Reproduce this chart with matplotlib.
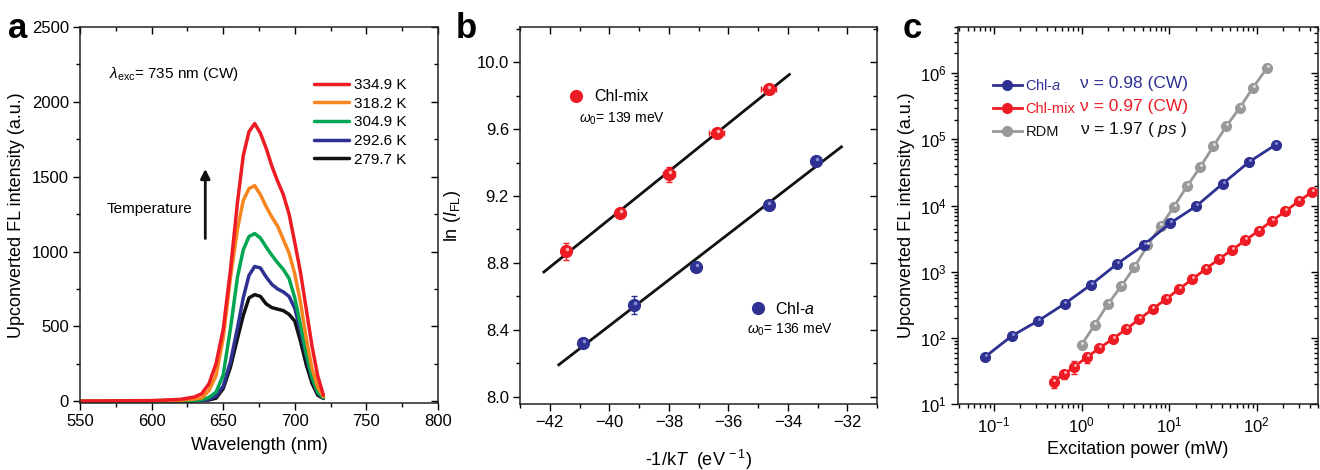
import numpy as np
import matplotlib
matplotlib.use('Agg')
import matplotlib.pyplot as plt
import matplotlib.transforms as mtransforms
from matplotlib.ticker import MultipleLocator, LogLocator, NullFormatter

plt.rcParams['font.family'] = ['Liberation Sans', 'DejaVu Sans']
plt.rcParams['mathtext.fontset'] = 'custom'
plt.rcParams['mathtext.rm'] = 'Liberation Sans'
plt.rcParams['mathtext.it'] = 'Liberation Sans:italic'
plt.rcParams['mathtext.bf'] = 'Liberation Sans:bold'

# ---- panel a: upconverted FL spectra at different temperatures ----
wavelength = [550, 600, 620, 630, 635, 640, 645, 650, 655, 660, 664, 668, 672,
              676, 680, 684, 688, 692, 696, 700, 704, 708, 712, 716, 720]
spec_334 = [0, 4, 12, 28, 50, 115, 250, 480, 870, 1330, 1640, 1800, 1855,
            1790, 1690, 1570, 1470, 1380, 1250, 1060, 860, 616, 370, 170, 40]
spec_318 = [0, 2, 6, 14, 22, 70, 170, 420, 820, 1150, 1340, 1420, 1440,
            1380, 1300, 1230, 1170, 1080, 990, 850, 660, 420, 220, 95, 30]
spec_305 = [0, 1, 3, 6, 10, 25, 60, 175, 480, 830, 1010, 1100, 1120,
            1090, 1030, 975, 925, 880, 820, 690, 510, 320, 160, 60, 22]
spec_293 = [0, 0, 2, 4, 6, 12, 35, 100, 260, 490, 690, 840, 900,
            890, 830, 780, 750, 730, 700, 620, 470, 300, 150, 55, 22]
spec_280 = [0, 0, 1, 3, 5, 8, 20, 84, 225, 420, 572, 690, 712,
            700, 650, 625, 615, 605, 580, 535, 400, 245, 120, 40, 18]
temp_labels = ['334.9 K', '318.2 K', '304.9 K', '292.6 K', '279.7 K']
temp_colors = ['#ED1C24', '#F7861F', '#00A651', '#2E3192', '#111111']

# ---- panel b: Arrhenius-type plot ----
mix_x = [-41.46, -39.63, -38.0, -36.39, -34.65]
mix_y = [8.87, 9.10, 9.33, 9.575, 9.84]
mix_xerr = [0, 0, 0.2, 0.25, 0.25]
mix_yerr = [0.05, 0, 0.045, 0, 0]
mix_fit_range = (-42.2, -33.95)

cha_x = [-40.89, -39.17, -37.08, -34.65, -33.04]
cha_y = [8.32, 8.55, 8.775, 9.145, 9.41]
cha_yerr = [0, 0.053, 0, 0, 0]
cha_fit_range = (-41.7, -32.2)

# ---- panel c: power dependence ----
cha_power = [0.08, 0.16, 0.32, 0.64, 1.28, 2.56, 5.12, 10.24, 20.5, 41, 82, 164]
cha_int = [52, 107, 181, 327, 635, 1320, 2535, 5400, 9890, 21500, 45900, 83000]

rdm_power = [1.0, 1.41, 2.0, 2.83, 4.0, 5.66, 8.0, 11.3, 16, 22.6, 32, 45, 64, 90.5, 130]
rdm_int = [78, 157, 324, 600, 1164, 2506, 4860, 9550, 19600, 38100, 79200,
           159000, 302000, 607000, 1190000]

mix_power = [0.48, 0.63, 0.83, 1.15, 1.60, 2.27, 3.22, 4.56, 6.47, 9.17, 13.0,
             18.4, 26.1, 37.0, 52.5, 74.3, 105, 149, 212, 300, 425]
mix_int = [21.8, 28.1, 36.8, 50.9, 69.7, 96.5, 135, 192, 272, 385, 546, 774,
           1097, 1556, 2155, 2985, 4182, 5856, 8204, 11640, 15920]
mix_int_err = [4.5, 4, 8, 9, 0, 7, 0, 0, 0, 0, 0, 0, 0, 0, 0, 0, 0, 0, 0, 0, 0]

RED = '#ED1C24'
BLUE = '#2E3192'
GRAY = '#999999'


def style_axes(ax):
    ax.tick_params(which='both', top=True, right=True, labelsize=12, pad=3)
    ax.tick_params(which='both', direction='out')
    ax.tick_params(which='major', length=5, width=1)
    ax.tick_params(which='minor', length=3, width=1)
    for s in ax.spines.values():
        s.set_linewidth(1.1)
        s.set_color('#222222')


def mirror_ticks(ax):
    # top/right ticks point into the frame, bottom/left point out
    for t in ax.xaxis.get_major_ticks() + ax.xaxis.get_minor_ticks():
        t.tick2line.set_marker(3)
    for t in ax.yaxis.get_major_ticks() + ax.yaxis.get_minor_ticks():
        t.tick2line.set_marker(0)


def sphere(ax, x, y, light, ms, fig):
    # fake shaded sphere: a small light spot on top of the marker
    off = mtransforms.offset_copy(ax.transData, fig=fig, x=0.6, y=1.4, units='points')
    ax.plot(x, y, 'o', ls='none', ms=ms * 0.3, color=light, mec='none',
            transform=off, zorder=6)


fig = plt.figure(figsize=(13.2, 4.7), dpi=100)
ax_a = fig.add_axes([0.0606, 0.1426, 0.2712, 0.80])
ax_b = fig.add_axes([0.394, 0.1404, 0.2705, 0.802])
ax_c = fig.add_axes([0.7258, 0.1404, 0.2727, 0.802])

# ---------------- panel a ----------------
spectra = [spec_334, spec_318, spec_305, spec_293, spec_280]
for spec, lab, col in zip(spectra[::-1], temp_labels[::-1], temp_colors[::-1]):
    ax_a.plot(wavelength, spec, color=col, lw=2.5, label=lab, solid_capstyle='round',
              solid_joinstyle='round')
handles, labels = ax_a.get_legend_handles_labels()
ax_a.legend(handles[::-1], labels[::-1], loc='upper right', bbox_to_anchor=(0.93, 0.88),
            frameon=False, fontsize=11, handlelength=2.3, handletextpad=0.35,
            labelspacing=0.3, borderaxespad=0)
ax_a.set_xlim(550, 800)
ax_a.set_ylim(-12, 2500)
ax_a.xaxis.set_major_locator(MultipleLocator(50))
ax_a.xaxis.set_minor_locator(MultipleLocator(25))
ax_a.yaxis.set_major_locator(MultipleLocator(500))
ax_a.yaxis.set_minor_locator(MultipleLocator(250))
style_axes(ax_a)
ax_a.set_xlabel('Wavelength (nm)', fontsize=13, labelpad=6)
ax_a.set_ylabel('Upconverted FL intensity (a.u.)', fontsize=13, labelpad=5)
ax_a.text(0.08, 0.875, r'$\mathit{\lambda}_{\mathrm{exc}}$= 735 nm (CW)', transform=ax_a.transAxes,
          fontsize=11, va='center')
ax_a.text(0.075, 0.515, 'Temperature', transform=ax_a.transAxes, fontsize=11, va='center')
ax_a.annotate('', xy=(0.350, 0.63), xytext=(0.350, 0.43), xycoords='axes fraction',
              arrowprops=dict(arrowstyle='-|>', color='#111111', lw=2, mutation_scale=14))

# ---------------- panel b ----------------
for fx, fy, rng in [(mix_x, mix_y, mix_fit_range), (cha_x, cha_y, cha_fit_range)]:
    k, b0 = np.polyfit(fx, fy, 1)
    xs = np.array(rng)
    ax_b.plot(xs, k * xs + b0, color='#111111', lw=2, zorder=2)

h_mix = ax_b.errorbar(mix_x, mix_y, xerr=mix_xerr, yerr=mix_yerr, fmt='o', ms=8.5,
                      color=RED, mec=RED, ecolor=RED, elinewidth=1, capsize=2.5, zorder=4)
h_cha = ax_b.errorbar(cha_x, cha_y, yerr=cha_yerr, fmt='o', ms=8.5,
                      color=BLUE, mec=BLUE, ecolor=BLUE, elinewidth=1, capsize=2.5, zorder=4)
sphere(ax_b, mix_x, mix_y, '#FFB0B0', 8.5, fig)
sphere(ax_b, cha_x, cha_y, '#8A8FD8', 8.5, fig)

leg1 = ax_b.legend([h_mix[0]], ['Chl-mix'], loc='center left', bbox_to_anchor=(0.117, 0.815),
                   frameon=False, fontsize=11.5, handletextpad=0.6, handlelength=1.0,
                   borderaxespad=0)
ax_b.add_artist(leg1)
ax_b.legend([h_cha[0]], ['Chl-$\\mathit{a}$'], loc='center left', bbox_to_anchor=(0.625, 0.253),
            frameon=False, fontsize=11.5, handletextpad=0.6, handlelength=1.0,
            borderaxespad=0)
ax_b.text(0.165, 0.757, r'$\mathit{\omega}_{0}$= 139 meV', transform=ax_b.transAxes,
          fontsize=10, va='center')
ax_b.text(0.635, 0.198, r'$\mathit{\omega}_{0}$= 136 meV', transform=ax_b.transAxes,
          fontsize=10, va='center')
ax_b.set_xlim(-43, -31)
ax_b.set_ylim(7.956, 10.21)
ax_b.xaxis.set_major_locator(MultipleLocator(2))
ax_b.xaxis.set_minor_locator(MultipleLocator(1))
ax_b.yaxis.set_major_locator(MultipleLocator(0.4))
ax_b.yaxis.set_minor_locator(MultipleLocator(0.2))
ax_b.yaxis.set_major_formatter(plt.FormatStrFormatter('%.1f'))
style_axes(ax_b)
ax_b.set_xlabel(r'-1/k$\mathit{T}$  (eV$^{\,-1}$)', fontsize=13, labelpad=13)
ax_b.set_ylabel(r'ln $(\mathit{I}_{\mathrm{FL}})$', fontsize=13, labelpad=10)

# ---------------- panel c ----------------
l_cha, = ax_c.plot(cha_power, cha_int, '-o', color=BLUE, mec=BLUE, lw=2, ms=7, zorder=4)
ax_c.errorbar(mix_power, mix_int, yerr=mix_int_err, fmt='none', ecolor=RED,
              elinewidth=1, capsize=2, zorder=4)
l_mix, = ax_c.plot(mix_power, mix_int, '-o', color=RED, mec=RED, lw=2, ms=7, zorder=4)
l_rdm, = ax_c.plot(rdm_power, rdm_int, '-o', color=GRAY, mec=GRAY, lw=2, ms=7, zorder=3)
sphere(ax_c, cha_power, cha_int, '#8A8FD8', 7, fig)
sphere(ax_c, mix_power, mix_int, '#FFB0B0', 7, fig)
sphere(ax_c, rdm_power, rdm_int, '#E0E0E0', 7, fig)

leg = ax_c.legend([l_cha, l_mix, l_rdm], ['Chl-$\\mathit{a}$', 'Chl-mix', 'RDM'],
                  loc='upper left', bbox_to_anchor=(0.08, 0.88), frameon=False, fontsize=10.5,
                  handlelength=2.0, handletextpad=0.25, labelspacing=0.6, borderaxespad=0)
for txt, col in zip(leg.get_texts(), [BLUE, RED, '#111111']):
    txt.set_color(col)
nu_texts = ['ν = 0.98 (CW)', 'ν = 0.97 (CW)', r'ν = 1.97 ( $\mathit{ps}$ )']
for i, (t, col) in enumerate(zip(nu_texts, [BLUE, RED, '#111111'])):
    ax_c.text(0.338, 0.851 - i * 0.0615, t, transform=ax_c.transAxes, fontsize=12.5,
              color=col, va='center')

ax_c.set_xscale('log')
ax_c.set_yscale('log')
ax_c.set_xlim(0.039, 500)
ax_c.set_ylim(10, 5e6)
ax_c.xaxis.set_major_locator(LogLocator(base=10, numticks=10))
ax_c.yaxis.set_major_locator(LogLocator(base=10, numticks=10))
ax_c.xaxis.set_minor_locator(LogLocator(base=10, subs=np.arange(2, 10), numticks=20))
ax_c.yaxis.set_minor_locator(LogLocator(base=10, subs=np.arange(2, 10), numticks=20))
ax_c.xaxis.set_minor_formatter(NullFormatter())
ax_c.yaxis.set_minor_formatter(NullFormatter())
style_axes(ax_c)
ax_c.set_xlabel('Excitation power (mW)', fontsize=13, labelpad=4)
ax_c.set_ylabel('Upconverted FL intensity (a.u.)', fontsize=13, labelpad=4)

for ax in (ax_a, ax_b, ax_c):
    fig.canvas.draw()
    mirror_ticks(ax)

# panel letters
fig.text(0.006, 0.94, 'a', fontsize=25, fontweight='bold', va='center')
fig.text(0.345, 0.94, 'b', fontsize=25, fontweight='bold', va='center')
fig.text(0.684, 0.94, 'c', fontsize=25, fontweight='bold', va='center')

fig.savefig('out.png', dpi=100)
